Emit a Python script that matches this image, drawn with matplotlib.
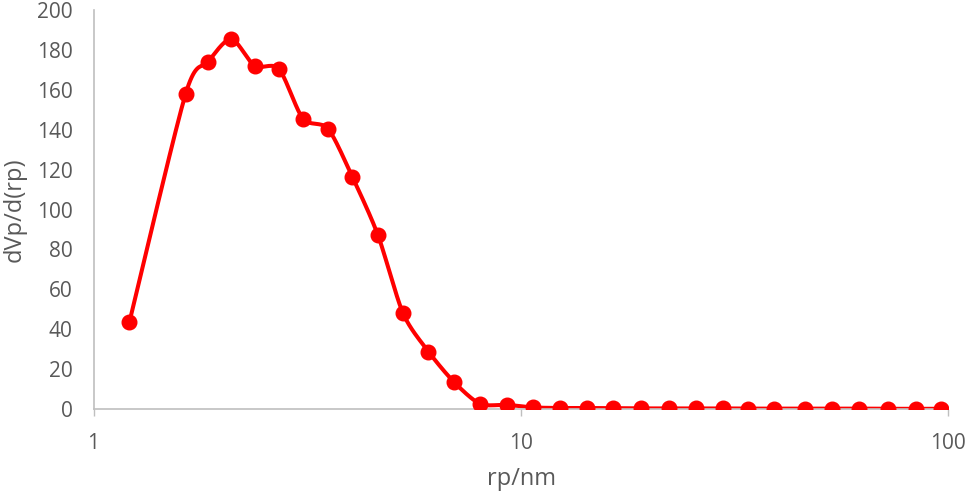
import numpy as np
import matplotlib
matplotlib.use('Agg')
import matplotlib.pyplot as plt

# pore radius (nm) and dVp/d(rp)
rp = [1.214, 1.643, 1.853, 2.101, 2.383, 2.716, 3.092, 3.538, 4.036, 4.633,
      5.302, 6.08, 6.98, 8.03, 9.28, 10.67, 12.34, 14.27, 16.43, 19.10,
      22.22, 25.69, 29.72, 34.0, 39.1, 46.2, 53.5, 61.9, 72.3, 84.2, 96.3]
dv = [43.7, 158, 174, 185.5, 172, 170.5, 145.5, 140.5, 116.3, 87.1,
      48, 28.8, 13.5, 2.6, 2.1, 0.8, 0.5, 0.5, 0.4, 0.3,
      0.3, 0.3, 0.3, 0.2, 0.2, 0.2, 0.2, 0.2, 0.1, 0.1, 0.1]
yticks = [0, 20, 40, 60, 80, 100, 120, 140, 160, 180, 200]
xticks = [1, 10, 100]

plt.rcParams['font.family'] = ['Open Sans', 'DejaVu Sans']
grey = '#595959'

# smooth line like the spreadsheet one (cardinal spline in screen-ish space)
def smooth(xs, ys, n=20, k=0.4):
    u = np.log10(xs) * 213.5
    v = np.asarray(ys, float)
    P = np.column_stack([u, v])
    P = np.vstack([P[0], P, P[-1]])
    out = []
    t = np.linspace(0, 1, n)[:, None]
    h00 = 2*t**3 - 3*t**2 + 1
    h10 = t**3 - 2*t**2 + t
    h01 = -2*t**3 + 3*t**2
    h11 = t**3 - t**2
    for i in range(1, len(P) - 2):
        p0, p1, p2, p3 = P[i-1], P[i], P[i+1], P[i+2]
        m1 = k * (p2 - p0)
        m2 = k * (p3 - p1)
        out.append(h00*p1 + h10*m1 + h01*p2 + h11*m2)
    c = np.vstack(out)
    return 10 ** (c[:, 0] / 213.5), c[:, 1]

fig = plt.figure(figsize=(9.69, 4.93), dpi=100)
ax = fig.add_axes([93.5/969, 1-409/493, (948-93.5)/969, (409-10)/493])

sx, sy = smooth(rp, dv)
ax.plot(sx, sy, color='#FF0000', lw=2.9, solid_capstyle='round', zorder=2)
ax.plot(rp, dv, 'o', color='#FF0000', ms=10.5, zorder=3)

ax.set_xscale('log')
ax.set_xlim(1, 100)
ax.set_ylim(0, 200)
ax.set_xticks(xticks)
ax.set_xticklabels([str(t) for t in xticks])
ax.xaxis.set_minor_locator(matplotlib.ticker.NullLocator())
ax.set_yticks(yticks)

for s in ['top', 'right']:
    ax.spines[s].set_visible(False)
for s in ['left', 'bottom']:
    ax.spines[s].set_color('#BFBFBF')
    ax.spines[s].set_linewidth(1.2)
ax.tick_params(axis='x', colors=grey, labelsize=15, length=5, width=1,
               color='#BFBFBF', pad=12)
ax.tick_params(axis='y', colors=grey, labelsize=15, length=0, pad=15)

ax.set_xlabel('rp/nm', fontsize=17, color=grey)
ax.set_ylabel('dVp/d(rp)', fontsize=17, color=grey)
ax.xaxis.set_label_coords(0.501, -0.145)
ax.yaxis.set_label_coords(-0.078, 0.5)

fig.savefig('out.png', dpi=100)
